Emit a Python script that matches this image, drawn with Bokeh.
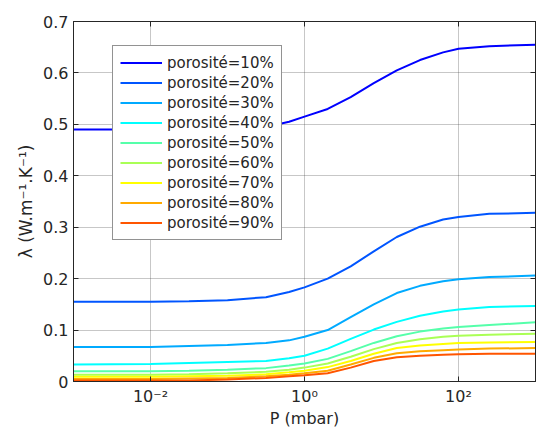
from bokeh.plotting import figure
from bokeh.models import FixedTicker, LinearAxis, LogAxis, Legend
from bokeh.embed import file_html
from bokeh.resources import INLINE

# pressure (mbar)
P = [0.001, 0.01, 0.0316, 0.1, 0.316, 0.631, 1.0, 2.0, 3.98, 7.94, 15.8, 31.6, 63.1, 100.0, 251.0, 1000.0]

lam_10 = [0.490, 0.490, 0.490, 0.491, 0.495, 0.505, 0.515, 0.530, 0.553, 0.580, 0.605, 0.625, 0.640, 0.647, 0.652, 0.655]
lam_20 = [0.155, 0.155, 0.156, 0.158, 0.164, 0.174, 0.183, 0.200, 0.224, 0.253, 0.281, 0.301, 0.315, 0.320, 0.326, 0.328]
lam_30 = [0.067, 0.067, 0.069, 0.071, 0.075, 0.080, 0.087, 0.100, 0.125, 0.150, 0.172, 0.186, 0.195, 0.199, 0.203, 0.206]
lam_40 = [0.033, 0.034, 0.036, 0.038, 0.040, 0.045, 0.050, 0.064, 0.083, 0.101, 0.116, 0.128, 0.136, 0.140, 0.145, 0.147]
lam_50 = [0.020, 0.020, 0.021, 0.023, 0.026, 0.031, 0.035, 0.044, 0.059, 0.075, 0.088, 0.097, 0.103, 0.106, 0.110, 0.115]
lam_60 = [0.013, 0.013, 0.014, 0.016, 0.019, 0.023, 0.027, 0.035, 0.048, 0.063, 0.075, 0.082, 0.087, 0.089, 0.091, 0.093]
lam_70 = [0.009, 0.009, 0.010, 0.011, 0.014, 0.018, 0.021, 0.028, 0.040, 0.054, 0.065, 0.070, 0.073, 0.075, 0.076, 0.077]
lam_80 = [0.005, 0.005, 0.006, 0.007, 0.010, 0.013, 0.016, 0.021, 0.033, 0.046, 0.055, 0.059, 0.061, 0.062, 0.064, 0.065]
lam_90 = [0.002, 0.002, 0.002, 0.004, 0.007, 0.010, 0.012, 0.016, 0.027, 0.040, 0.047, 0.050, 0.052, 0.053, 0.054, 0.054]

series = [lam_10, lam_20, lam_30, lam_40, lam_50, lam_60, lam_70, lam_80, lam_90]
labels = ["porosité=10%", "porosité=20%", "porosité=30%", "porosité=40%", "porosité=50%",
          "porosité=60%", "porosité=70%", "porosité=80%", "porosité=90%"]
colors = ["#0000FF", "#0055FF", "#00AAFF", "#00FFFF", "#55FFAA", "#AAFF55", "#FFFF00", "#FFAA00", "#FF5500"]

y_ticks = [0, 0.1, 0.2, 0.3, 0.4, 0.5, 0.6, 0.7]
y_tick_labels = ["0", "0.1", "0.2", "0.3", "0.4", "0.5", "0.6", "0.7"]
x_ticks = [0.01, 1, 100]
x_tick_labels = ["10⁻²", "10⁰", "10²"]

FONT = "DejaVu Sans"
TXT = "#262626"

p = figure(width=536, height=430, x_axis_type="log", x_range=(1e-3, 1e3), y_range=(0, 0.7),
           output_backend="svg", toolbar_location=None,
           min_border_left=73, min_border_right=1, min_border_top=21, min_border_bottom=47)

p.outline_line_color = TXT
p.outline_line_width = 1

renderers = []
for ys, lab, c in zip(series, labels, colors):
    r = p.line(P, ys, line_color=c, line_width=2)
    renderers.append((lab, [r]))

legend = Legend(items=renderers, location=(39, 141))
legend.label_text_font = FONT
legend.label_text_font_size = "15px"
legend.label_text_color = TXT
legend.border_line_color = TXT
legend.border_line_width = 1
legend.background_fill_color = "white"
legend.background_fill_alpha = 1
legend.padding = 7
legend.spacing = 1
legend.label_height = 19
legend.glyph_height = 19
legend.glyph_width = 42
legend.label_standoff = 5
legend.margin = 0
p.add_layout(legend, "center")

xt = FixedTicker(ticks=x_ticks, minor_ticks=[])
yt = FixedTicker(ticks=y_ticks, minor_ticks=[])

for ax in [p.xaxis[0], p.yaxis[0]]:
    ax.major_tick_in = 5
    ax.major_tick_out = 0
    ax.minor_tick_in = 0
    ax.minor_tick_out = 0
    ax.axis_line_color = TXT
    ax.major_tick_line_color = TXT
    ax.major_label_text_font = FONT
    ax.major_label_text_font_size = "16px"
    ax.major_label_text_color = TXT
    ax.axis_label_text_font = FONT
    ax.axis_label_text_font_size = "17px"
    ax.axis_label_text_font_style = "normal"
    ax.axis_label_text_color = TXT

p.xaxis[0].ticker = xt
p.yaxis[0].ticker = yt
p.xaxis[0].major_label_overrides = dict(zip(x_ticks, x_tick_labels))
p.yaxis[0].major_label_overrides = dict(zip(y_ticks, y_tick_labels))
p.xaxis[0].axis_label = "P (mbar)"
p.xaxis[0].axis_label_text_font_size = "16px"
p.yaxis[0].axis_label = "λ (W.m⁻¹.K⁻¹)"
p.xaxis[0].major_label_standoff = 5
p.yaxis[0].major_label_standoff = 5
p.xaxis[0].axis_label_standoff = 0
p.yaxis[0].axis_label_standoff = 4

right = LinearAxis(ticker=yt, major_label_text_font_size="1px", major_label_text_color=None,
                   major_label_standoff=0,
                   major_tick_in=5, major_tick_out=0, minor_tick_in=0, minor_tick_out=0,
                   axis_line_color=TXT, major_tick_line_color=TXT)
top = LogAxis(ticker=xt, major_label_text_font_size="1px", major_label_text_color=None,
              major_label_standoff=0,
              major_tick_in=5, major_tick_out=0, minor_tick_in=0, minor_tick_out=0,
              axis_line_color=TXT, major_tick_line_color=TXT)
p.add_layout(right, "right")
p.add_layout(top, "above")

p.xgrid.grid_line_color = "#444444"
p.ygrid.grid_line_color = "#444444"
p.xgrid.grid_line_dash = "1 1"
p.ygrid.grid_line_dash = "1 1"
p.xgrid.grid_line_alpha = 0.6
p.ygrid.grid_line_alpha = 0.6

open("out.html", "w").write(file_html(p, INLINE))
